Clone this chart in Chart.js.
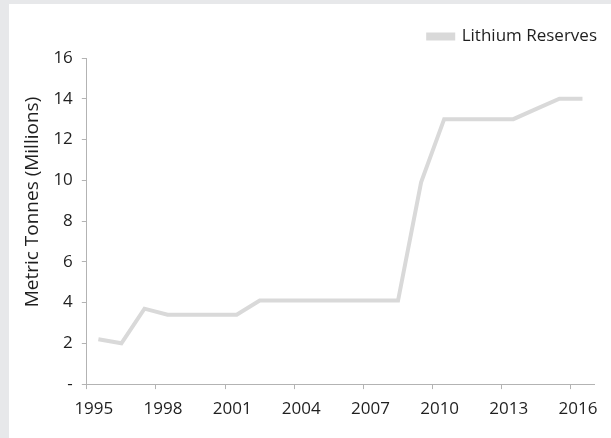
<!DOCTYPE html>
<html>
<head>
<meta charset="utf-8">
<script src="https://cdn.jsdelivr.net/npm/chart.js@4.4.1/dist/chart.umd.min.js"></script>
<style>
  html, body { margin: 0; padding: 0; background: #e7e8ea; width: 611px; height: 438px; overflow: hidden; }
  #wrap { position: absolute; left: 9px; top: 4px; width: 602px; height: 434px; background: #ffffff; }
  canvas { display: block; }
</style>
</head>
<body>
<div id="wrap"><canvas id="c" width="602" height="434"></canvas></div>
<script>
const years = [1995,1996,1997,1998,1999,2000,2001,2002,2003,2004,2005,2006,2007,2008,2009,2010,2011,2012,2013,2014,2015,2016];
const reserves = [2.2,2.0,3.7,3.4,3.4,3.4,3.4,4.1,4.1,4.1,4.1,4.1,4.1,4.1,9.9,13,13,13,13,13.5,14,14];
const xTickLabels = [1995,1998,2001,2004,2007,2010,2013,2016];
const yTicks = [0,2,4,6,8,10,12,14,16];
const seriesName = 'Lithium Reserves';
const yTitle = 'Metric Tonnes (Millions)';

const FONT = "'Open Sans', sans-serif";
const TXT = '#1f1f1f';
const AXIS = '#b3b3b3';

const points = years.map((y, i) => ({ x: y, y: reserves[i] }));

function patchLegend(chart) {
  const lg = chart.legend;
  if (!lg || lg._patched) return;
  const f = lg.fit;
  lg.fit = function () { f.call(this); this.height += 3; };
  lg._patched = true;
}

function patchTitle(chart) {
  const s = chart.scales && chart.scales.y;
  if (!s || s._titlePatched) return;
  const orig = s.drawTitle;
  s.drawTitle = function () {
    const ctx = this.ctx;
    ctx.save();
    ctx.translate(0, -19);
    orig.apply(this, arguments);
    ctx.restore();
  };
  s._titlePatched = true;
}

const layoutTweak = {
  id: 'layoutTweak',
  beforeInit(chart) { patchLegend(chart); },
  afterInit(chart) { patchLegend(chart); },
  beforeUpdate(chart) { patchLegend(chart); },
  afterLayout(chart) {
    const lg = chart.legend;
    if (lg) { lg.left += 13; lg.right += 13; }
    patchTitle(chart);
  },
  beforeDraw(chart) { patchTitle(chart); }
};

new Chart(document.getElementById('c'), {
  type: 'line',
  data: {
    datasets: [{
      label: seriesName,
      data: points,
      borderColor: '#d9d9d9',
      backgroundColor: '#d9d9d9',
      borderWidth: 4,
      pointRadius: 0,
      tension: 0,
      fill: false
    }]
  },
  plugins: [layoutTweak],
  options: {
    responsive: false,
    animation: false,
    devicePixelRatio: 1,
    layout: { padding: { left: 12.6, right: 17, top: 14, bottom: 8.5 } },
    plugins: {
      tooltip: { enabled: false },
      legend: {
        position: 'top',
        align: 'end',
        labels: {
          boxWidth: 25,
          boxHeight: 4,
          font: { family: FONT, size: 17 },
          color: TXT,
          padding: 10
        }
      }
    },
    scales: {
      x: {
        type: 'linear',
        min: years[0] - 0.5,
        max: years[years.length - 1] + 0.5,
        afterBuildTicks: (scale) => {
          scale.ticks = xTickLabels.map(v => ({ value: v - 0.5 }));
        },
        grid: { display: true, drawOnChartArea: false, drawTicks: true, tickLength: 5, color: AXIS },
        border: { display: true, color: AXIS, width: 1 },
        ticks: {
          font: { family: FONT, size: 17 },
          color: TXT,
          padding: 10,
          labelOffset: 7,
          maxRotation: 0,
          autoSkip: false,
          callback: (v) => String(Math.round(v + 0.5))
        }
      },
      y: {
        min: 0,
        max: 16,
        afterBuildTicks: (scale) => {
          scale.ticks = yTicks.map(v => ({ value: v }));
        },
        grid: { display: true, drawOnChartArea: false, drawTicks: true, tickLength: 5, color: AXIS },
        border: { display: true, color: AXIS, width: 1 },
        title: {
          display: true,
          text: yTitle,
          font: { family: FONT, size: 19 },
          color: TXT,
          padding: { top: 0, bottom: 0 }
        },
        ticks: {
          font: { family: FONT, size: 17 },
          color: TXT,
          padding: 9,
          callback: (v) => v === 0 ? '-' : String(v)
        }
      }
    }
  }
});
</script>
</body>
</html>
